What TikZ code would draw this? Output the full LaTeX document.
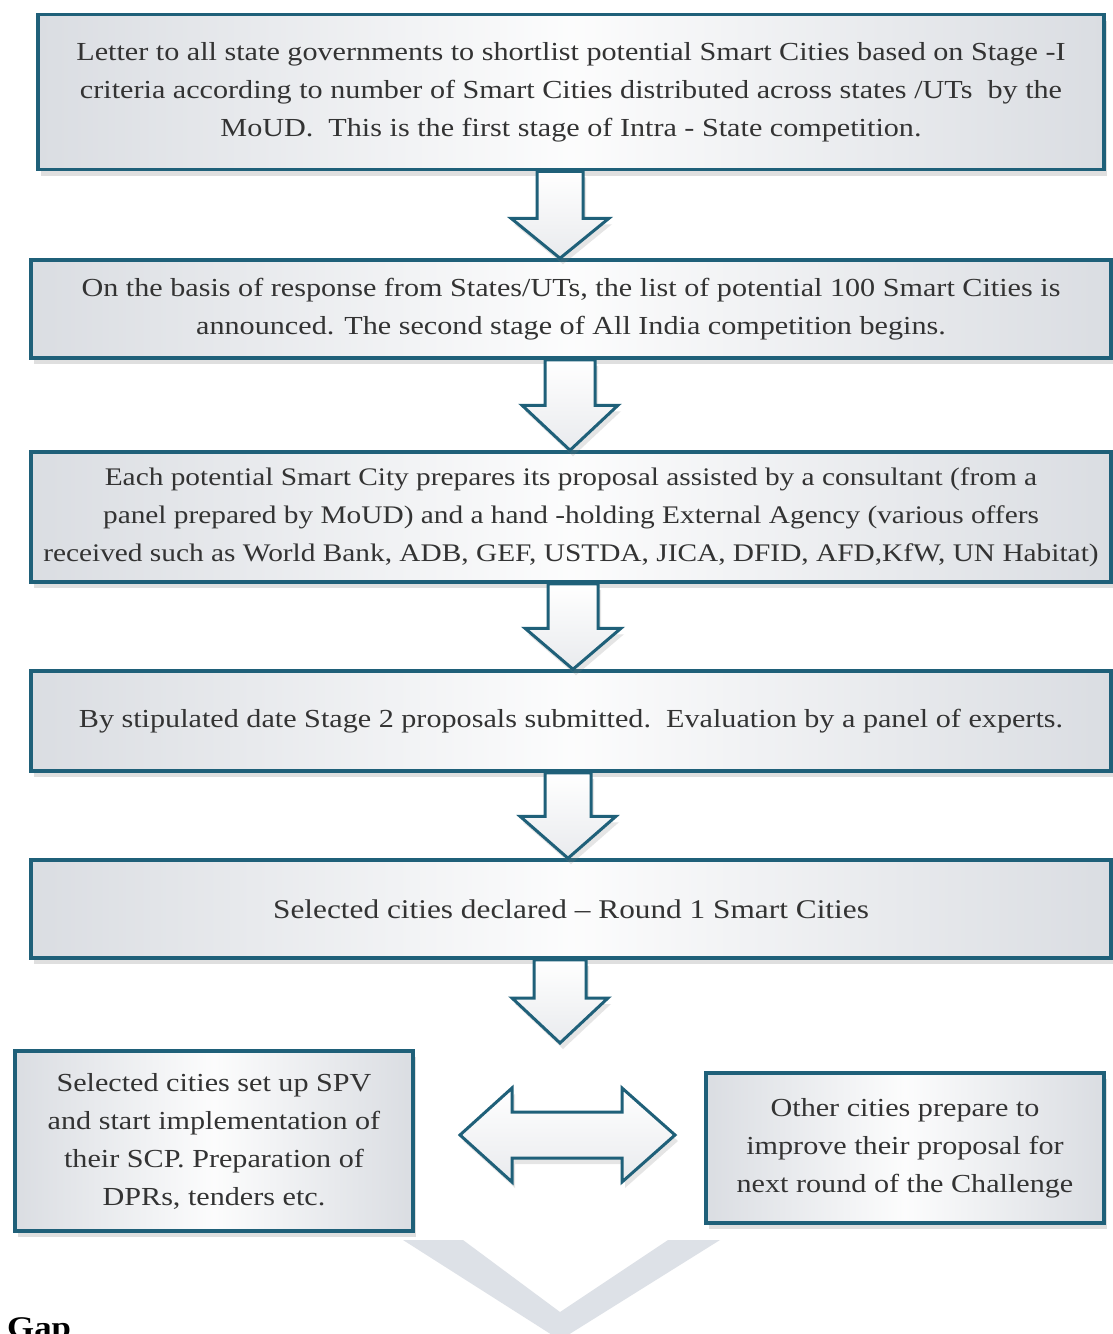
\documentclass[tikz,border=0pt]{standalone}
\usepackage{fontspec}
\setmainfont{Liberation Serif}[FakeStretch=1.16]
\usetikzlibrary{arrows.meta,calc,shadows}

\definecolor{boxedge}{HTML}{1F6079}
\definecolor{boxgrey}{HTML}{DADDE2}
\definecolor{gapgrey}{HTML}{DDE1E7}

\tikzset{
  stagebox/.style={draw=boxedge, line width=3.5pt, inner sep=0pt, align=center,
    left color=boxgrey, right color=boxgrey, middle color=white!92!boxgrey,
    text=black!80, font=\fontsize{26}{38}\selectfont,
    drop shadow={opacity=0.25, shadow xshift=3pt, shadow yshift=-6pt}},
  blockarrow/.style={draw=boxedge, line width=3pt, line join=miter,
    top color=white, bottom color=boxgrey!60,
    drop shadow={opacity=0.2, shadow xshift=3pt, shadow yshift=-6pt}}
}

% down arrow: from, to, dx, half shaft, half head, head length
\newcommand{\stagearrow}[6]{%
  \draw[blockarrow] ($(#1)+(#3-#4,0)$) -- ($(#1)+(#3+#4,0)$)
    -- ($(#2)+(#3+#4,-#6)$) -- ($(#2)+(#3+#5,-#6)$) -- ($(#2)+(#3,0)$)
    -- ($(#2)+(#3-#5,-#6)$) -- ($(#2)+(#3-#4,-#6)$) -- cycle;
}

\begin{document}
\begin{tikzpicture}[x=1pt,y=-1pt]
\useasboundingbox[fill=white] (0,0) rectangle (1112,1334);

% faint chevron at the bottom
\fill[gapgrey] (403,1240) -- (560,1340) -- (720,1240) -- (668,1240) -- (560,1312) -- (463,1240) -- cycle;

\node[stagebox, minimum width=1066pt, minimum height=155pt] (letter) at (571,92)
  {Letter to all state governments to shortlist potential Smart Cities based on Stage -I\\
   criteria according to number of Smart Cities distributed across states /UTs\ \ by the\\
   MoUD.\ \ This is the first stage of Intra - State competition.};
\node[stagebox, minimum width=1080pt, minimum height=98pt] (list) at (571,309)
  {On the basis of response from States/UTs, the list of potential 100 Smart Cities is\\
   announced. The second stage of All India competition begins.};
\node[stagebox, minimum width=1080pt, minimum height=130pt, font=\fontsize{25.3}{38}\selectfont] (proposal) at (571,517)
  {Each potential Smart City prepares its proposal assisted by a consultant (from a\\
   panel prepared by MoUD) and a hand -holding External Agency (various offers\\
   received such as World Bank, ADB, GEF, USTDA, JICA, DFID, AFD,KfW, UN Habitat)};
\node[stagebox, minimum width=1080pt, minimum height=100pt] (evaluation) at (571,721)
  {By stipulated date Stage 2 proposals submitted.\ \ Evaluation by a panel of experts.};
\node[stagebox, minimum width=1080pt, minimum height=98pt, font=\fontsize{27}{38}\selectfont] (declared) at (571,909)
  {Selected cities declared -- Round 1 Smart Cities};
\node[stagebox, minimum width=398pt, minimum height=180pt] (spv) at (214,1141)
  {Selected cities set up SPV\\ and start implementation of\\
   their SCP. Preparation of\\ DPRs, tenders etc.};
\node[stagebox, minimum width=398pt, minimum height=150pt] (others) at (905,1148)
  {Other cities prepare to\\ improve their proposal for\\ next round of the Challenge};

\coordinate (split) at (571,1043);
\coordinate (link) at (567,1135);

\stagearrow{letter.south}{list.north}{-11}{23}{49}{40}
\stagearrow{list.south}{proposal.north}{-1}{25}{48}{45}
\stagearrow{proposal.south}{evaluation.north}{2}{25}{48}{41}
\stagearrow{evaluation.south}{declared.north}{-3}{23}{48}{42}
\stagearrow{declared.south}{split}{-11}{26}{48}{45}

% two way arrow between the outcomes
\draw[blockarrow] ($(link)+(-107,0)$) -- ($(link)+(-55,-47)$) -- ($(link)+(-55,-23)$)
  -- ($(link)+(55,-23)$) -- ($(link)+(55,-47)$) -- ($(link)+(108,0)$)
  -- ($(link)+(55,47)$) -- ($(link)+(55,23)$) -- ($(link)+(-55,23)$)
  -- ($(link)+(-55,47)$) -- cycle;

\node[anchor=base west, inner sep=0pt, font=\bfseries\fontsize{30}{30}\selectfont] (gap) at (7,1337) {Gap};
\end{tikzpicture}
\end{document}
